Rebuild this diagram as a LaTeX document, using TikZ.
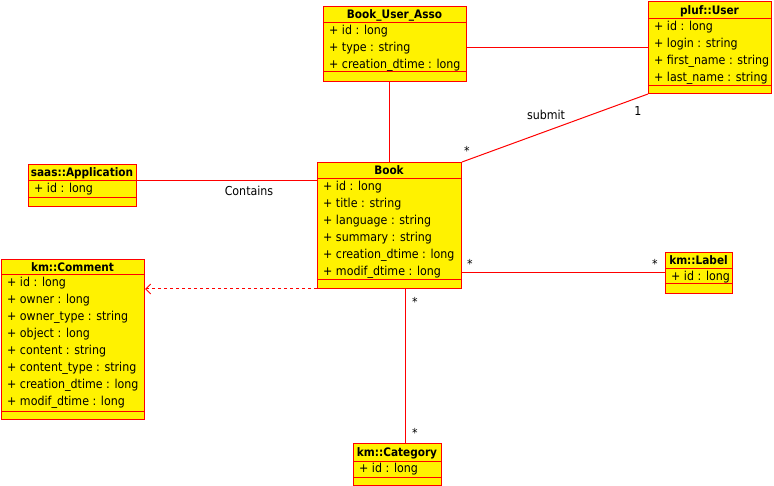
\documentclass[tikz,border=0pt]{standalone}
\usepackage{fontspec}
\setmainfont{DejaVu Sans Condensed}
\usetikzlibrary{arrows.meta}

\begin{document}
\begin{tikzpicture}[
    x=1pt, y=-1pt,
    >=Stealth,
    classbox/.style={draw=red, fill=yellow, line width=1pt, inner sep=0pt, anchor=north west},
    classname/.style={font=\bfseries\fontsize{11.7}{13}\selectfont, inner sep=0pt, text height=8.5pt, text depth=0pt},
    attrs/.style={font=\fontsize{12.3}{17}\selectfont, align=left, anchor=north west, inner sep=0pt},
    sep line/.style={red, line width=1pt},
    line/.style={red, line width=1pt},
    dep line/.style={red, line width=1pt, dashed, -{Straight Barb[length=5pt, width=10pt]}},
    assoc text/.style={font=\fontsize{12.3}{14}\selectfont, inner sep=0pt}
]
\useasboundingbox (0,0) rectangle (774,486);

% ==================== CLASSES ====================
% Book_User_Asso
\node[classbox, minimum width=143pt, minimum height=75pt] (asso) at (323,6) {};
\draw[sep line] (323,23) -- (466,23);
\draw[sep line] (323,72) -- (466,72);
\node[classname] (assoname) at (394.5,14.5) {Book\_User\_Asso};
\node[attrs] (assoattrs) at (329,25) {+ id : long\\+ type : string\\+ creation\_dtime : long};

% pluf::User
\node[classbox, minimum width=123pt, minimum height=92pt] (user) at (648,1) {};
\draw[sep line] (648,19) -- (771,19);
\draw[sep line] (648,86) -- (771,86);
\node[classname] (username) at (709.5,10) {pluf::User};
\node[attrs] (userattrs) at (654,21) {+ id : long\\+ login : string\\+ first\_name : string\\+ last\_name : string};

% saas::Application
\node[classbox, minimum width=108pt, minimum height=42pt] (app) at (28,164) {};
\draw[sep line] (28,181) -- (136,181);
\draw[sep line] (28,198) -- (136,198);
\node[classname] (appname) at (82,172.5) {saas::Application};
\node[attrs] (appattrs) at (34,183) {+ id : long};

% Book
\node[classbox, minimum width=144pt, minimum height=126pt] (book) at (317,162) {};
\draw[sep line] (317,179) -- (461,179);
\draw[sep line] (317,280) -- (461,280);
\node[classname] (bookname) at (389,170.5) {Book};
\node[attrs] (bookattrs) at (323,181) {+ id : long\\+ title : string\\+ language : string\\+ summary : string\\+ creation\_dtime : long\\+ modif\_dtime : long};

% km::Comment
\node[classbox, minimum width=143pt, minimum height=160pt] (comment) at (1,259) {};
\draw[sep line] (1,275) -- (144,275);
\draw[sep line] (1,411) -- (144,411);
\node[classname] (commentname) at (72.5,267) {km::Comment};
\node[attrs] (commentattrs) at (7,277) {+ id : long\\+ owner : long\\+ owner\_type : string\\+ object : long\\+ content : string\\+ content\_type : string\\+ creation\_dtime : long\\+ modif\_dtime : long};

% km::Label
\node[classbox, minimum width=67pt, minimum height=41pt] (klabel) at (665,252) {};
\draw[sep line] (665,269) -- (732,269);
\draw[sep line] (665,284) -- (732,284);
\node[classname] (klabelname) at (698.5,260.5) {km::Label};
\node[attrs] (klabelattrs) at (671,271) {+ id : long};

% km::Category
\node[classbox, minimum width=88pt, minimum height=42pt] (category) at (353,443) {};
\draw[sep line] (353,461) -- (441,461);
\draw[sep line] (353,477) -- (441,477);
\node[classname] (categoryname) at (397,452) {km::Category};
\node[attrs] (categoryattrs) at (359,463) {+ id : long};

% ==================== RELATIONS ====================
\draw[line] (book.north) -- (book.north |- asso.south);
\draw[line] (user.west) -- (user.west -| asso.east);
\draw[line] (book.north east) -- (user.south west);
\draw[line] ([yshift=5pt]app.east) -- ([yshift=5pt]app.east -| book.west);
\draw[line] (klabel.west) -- (klabel.west -| book.east);
\draw[line] ([xshift=16pt]book.south) -- ([xshift=16pt]book.south |- category.north);
\draw[dep line] (book.south west) -- (book.south west -| comment.east);

% Labels
\node[assoc text] (submit) at (546,115) {submit};
\node[assoc text] (usermult) at (638,111) {1};
\node[assoc text] (bookmult) at (467,151) {*};
\node[assoc text] (contains) at (249,191) {Contains};
\node[assoc text] (labelmultA) at (470,264) {*};
\node[assoc text] (labelmultB) at (655,264) {*};
\node[assoc text] (catmultA) at (415,302) {*};
\node[assoc text] (catmultB) at (415,433) {*};

\end{tikzpicture}
\end{document}
